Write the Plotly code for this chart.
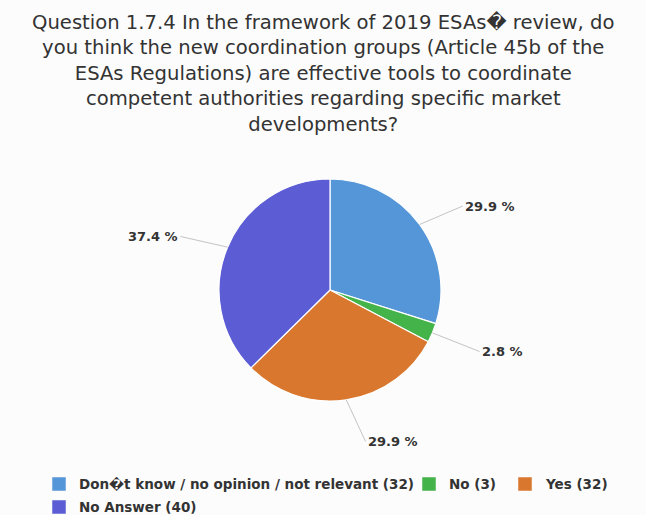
import math
import plotly.graph_objects as go

# Survey answers, in the order the slices are drawn (clockwise from 12 o'clock)
categories = ["Don\ufffdt know / no opinion / not relevant", "No", "Yes", "No Answer"]
counts = [32, 3, 32, 40]
colors = ["#5596d8", "#44b34a", "#d8772d", "#5c5dd5"]

title_lines = [
    "Question 1.7.4 In the framework of 2019 ESAs\ufffd review, do",
    "you think the new coordination groups (Article 45b of the",
    "ESAs Regulations) are effective tools to coordinate",
    "competent authorities regarding specific market",
    "developments?",
]

W, H = 646, 515
CX, CY, R = 330, 290, 111  # pie centre and radius in pixels

# Legend flow: left edge of each swatch (px) and row index
LEG_X = [52, 422, 518, 52]
LEG_ROW = [0, 0, 0, 1]
LEG_Y0, LEG_DY, SW = 484, 23, 14

total = sum(counts)
legend_names = [f"{c} ({n})" for c, n in zip(categories, counts)]

fig = go.Figure()
fig.add_trace(go.Pie(
    labels=legend_names,
    values=counts,
    sort=False,
    direction="clockwise",
    rotation=0,
    marker=dict(colors=colors, line=dict(color="#ffffff", width=1.2)),
    textinfo="none",
    hoverinfo="skip",
    showlegend=False,
    domain=dict(x=[(CX - R) / W, (CX + R) / W], y=[1 - (CY + R) / H, 1 - (CY - R) / H]),
))

annotations = []
shapes = []

# Title
annotations.append(dict(
    x=0.5, y=1 - 9 / H, xref="paper", yref="paper",
    xanchor="center", yanchor="top", showarrow=False, align="center",
    text="<br>".join(title_lines),
    font=dict(family="DejaVu Sans", size=19.6, color="#333333"),
))

# Outside percentage labels with connector lines, placed from each slice's mid-angle
cum = 0
for n in counts:
    mid = (cum + n / 2) / total * 2 * math.pi
    cum += n
    s, c = math.sin(mid), math.cos(mid)
    ex, ey = CX + R * s, CY - R * c
    side = 1 if s >= 0 else -1
    lx = CX + (R + 36) * s + side * 14
    ly = CY - (R + 38) * c + 4
    annotations.append(dict(
        x=ex / W, y=1 - ey / H, xref="paper", yref="paper",
        text=f"{n / total * 100:.1f} %",
        showarrow=True, arrowhead=0, arrowwidth=1, arrowcolor="#c4c4c4",
        ax=lx - ex, ay=ly - ey, standoff=0,
        xanchor="left" if side > 0 else "right", yanchor="middle",
        font=dict(family="DejaVu Sans", size=13, color="#333333", weight="bold"),
    ))

# Legend: coloured swatch plus bold label per category
for name, col, lx0, row in zip(legend_names, colors, LEG_X, LEG_ROW):
    yc = LEG_Y0 + row * LEG_DY
    shapes.append(dict(
        type="rect", xref="paper", yref="paper",
        x0=lx0 / W, x1=(lx0 + SW) / W,
        y0=1 - (yc + SW / 2) / H, y1=1 - (yc - SW / 2) / H,
        fillcolor=col, line=dict(color="#ffffff", width=0.5),
    ))
    annotations.append(dict(
        x=(lx0 + SW + 11) / W, y=1 - yc / H, xref="paper", yref="paper",
        xanchor="left", yanchor="middle", showarrow=False,
        text=name,
        font=dict(family="DejaVu Sans", size=13.5, color="#333333", weight="bold"),
    ))

fig.update_layout(
    width=W, height=H,
    margin=dict(l=0, r=0, t=0, b=0),
    paper_bgcolor="#fcfcfc",
    plot_bgcolor="#fcfcfc",
    annotations=annotations,
    shapes=shapes,
    showlegend=False,
)

fig.write_html("out.html")
